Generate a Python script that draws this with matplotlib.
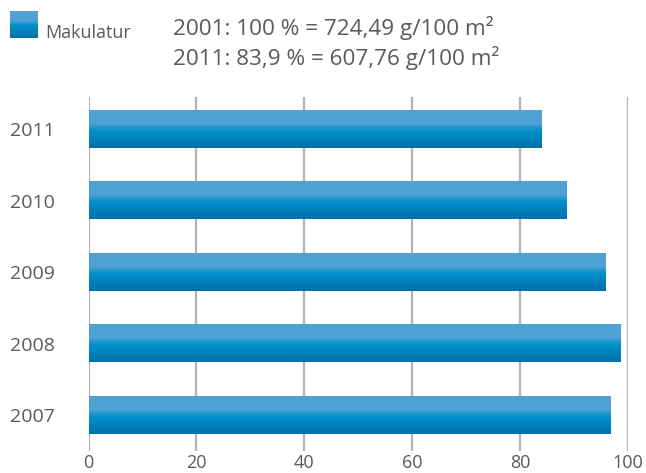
import numpy as np
import matplotlib
matplotlib.use('Agg')
import matplotlib.pyplot as plt
from matplotlib.colors import LinearSegmentedColormap

# Makulatur index per year (2001 = 100 %)
years = ['2007', '2008', '2009', '2010', '2011']
values = [96.7, 98.6, 95.8, 88.6, 83.9]
xticks = [0, 20, 40, 60, 80, 100]
legend_label = 'Makulatur'
note_lines = ['2001: 100 % = 724,49 g/100 m²',
              '2011: 83,9 % = 607,76 g/100 m²']

text_color = '#5a5a5a'
grid_color = '#b4b4b4'

plt.rcParams['font.family'] = ['Open Sans', 'DejaVu Sans']

# Vertical gradient used for bars: light top, deep blue bottom
grad_cmap = LinearSegmentedColormap.from_list(
    'bar', [(0.0, '#0070ac'), (0.45, '#0090c8'), (0.58, '#2f9ad0'),
            (0.62, '#4ea2d4'), (1.0, '#4ea2d4')])
grad = np.linspace(1, 0, 64).reshape(-1, 1)

fig = plt.figure(figsize=(6.46, 4.73), dpi=100)
ax = fig.add_axes([0.137, 0.046, 0.8347, 0.749])

bar_h = 0.52
for i, v in enumerate(values):
    ax.imshow(grad, cmap=grad_cmap, vmin=0, vmax=1, aspect='auto',
              extent=(0, v, i - bar_h / 2, i + bar_h / 2),
              interpolation='bilinear', zorder=3)

ax.set_xlim(0, 100)
ax.set_ylim(-0.5, 4.45)
ax.set_xticks(xticks)
ax.set_yticks(range(len(years)))
ax.set_yticklabels(years)
for x in xticks:
    ax.axvline(x, color=grid_color, lw=1.6, zorder=1)
for s in ax.spines.values():
    s.set_visible(False)
ax.tick_params(axis='both', length=0, labelcolor=text_color)
ax.tick_params(axis='y', pad=24, labelsize=14)
ax.tick_params(axis='x', pad=2, labelsize=13)

# Legend swatch with the same gradient
lax = fig.add_axes([10 / 646, 1 - 38 / 473, 28 / 646, 27 / 473])
lax.imshow(grad, cmap=grad_cmap, vmin=0, vmax=1, aspect='auto',
           interpolation='bilinear')
lax.axis('off')
fig.text(45 / 646, 1 - 38.5 / 473, legend_label, fontsize=13,
         color=text_color, va='baseline', ha='left')

fig.text(173 / 646, 1 - 35 / 473, note_lines[0], fontsize=16.2,
         color=text_color, va='baseline', ha='left')
fig.text(173 / 646, 1 - 65 / 473, note_lines[1], fontsize=16.2,
         color=text_color, va='baseline', ha='left')

fig.savefig('out.png', dpi=100)
plt.close(fig)
